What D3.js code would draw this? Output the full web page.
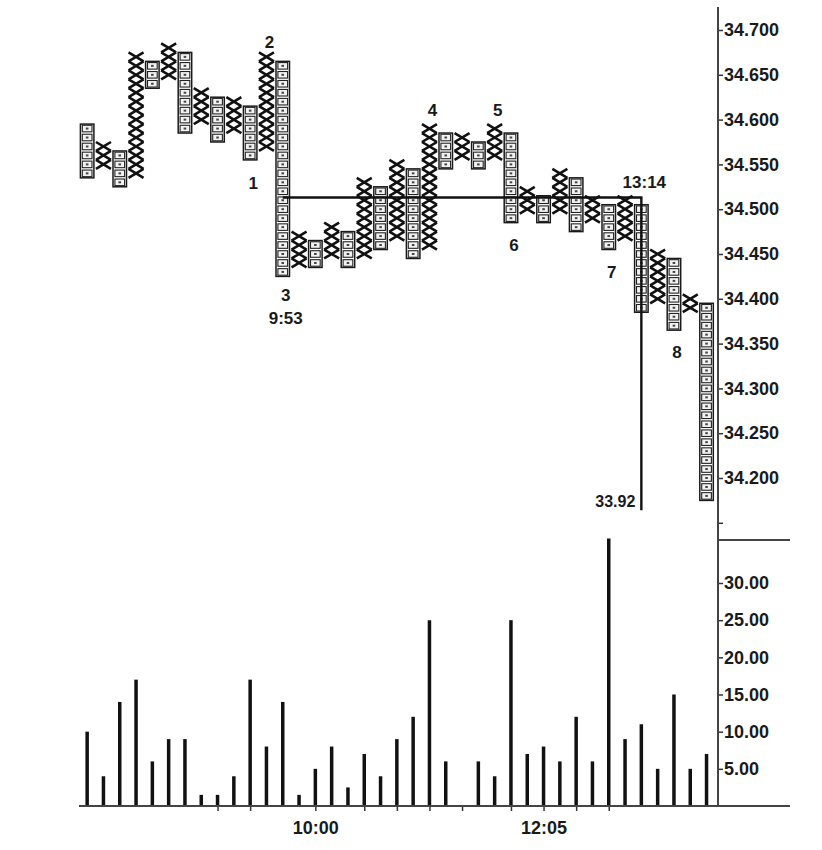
<!DOCTYPE html>
<html>
<head>
<meta charset="utf-8">
<script src="https://cdn.jsdelivr.net/npm/d3@7"></script>
<style>
  body { margin: 0; background: #fff; }
  text { font-family: "Liberation Sans", Arial, sans-serif; font-weight: bold; fill: #1a1a1a; }
</style>
</head>
<body>
<div id="chart"></div>
<script>
// point & figure columns, first column is an O column, then alternating
const colLow = [34.54, 34.55, 34.53, 34.54, 34.64, 34.65, 34.59, 34.60, 34.58, 34.59,
                34.56, 34.57, 34.43, 34.44, 34.44, 34.45, 34.44, 34.45, 34.46, 34.47,
                34.45, 34.46, 34.55, 34.56, 34.55, 34.56, 34.49, 34.50, 34.49, 34.50,
                34.48, 34.49, 34.46, 34.47, 34.39, 34.40, 34.37, 34.39, 34.18];
const colHigh = [34.59, 34.57, 34.56, 34.67, 34.66, 34.68, 34.67, 34.63, 34.62, 34.62,
                 34.61, 34.67, 34.66, 34.47, 34.46, 34.48, 34.47, 34.53, 34.52, 34.55,
                 34.54, 34.59, 34.58, 34.58, 34.57, 34.59, 34.58, 34.52, 34.51, 34.54,
                 34.53, 34.51, 34.50, 34.51, 34.50, 34.45, 34.44, 34.40, 34.39];
const volume = [10, 4, 14, 17, 6, 9, 9, 1.5, 1.5, 4, 17, 8, 14, 1.5, 5, 8, 2.5, 7, 4, 9,
                12, 25, 6, 0, 6, 4, 25, 7, 8, 6, 12, 6, 36, 9, 11, 5, 15, 5, 7];

const priceTicks = [34.15, 34.20, 34.25, 34.30, 34.35, 34.40, 34.45, 34.50, 34.55, 34.60, 34.65, 34.70];
const volTicks = [5, 10, 15, 20, 25, 30];
const timeTickCols = [8, 10, 14, 17, 19, 21, 23, 26, 28, 30, 32];
const timeLabels = {14: "10:00", 28: "12:05"};

// annotations: column index and price of the text baseline
const notes = [
    {text: "1", col: 10, price: 34.5225},
    {text: "2", col: 11, price: 34.680},
    {text: "3", col: 12, price: 34.3975},
    {text: "9:53", col: 12, price: 34.372},
    {text: "4", col: 21, price: 34.604},
    {text: "5", col: 25, price: 34.604},
    {text: "6", col: 26, price: 34.453},
    {text: "7", col: 32, price: 34.423},
    {text: "13:14", col: 34, price: 34.524},
    {text: "8", col: 36, price: 34.334}
];
const countLine = {fromCol: 12, toCol: 34, price: 34.513, endPrice: 34.164, label: "33.92"};

const boxSize = 0.01;
const W = 822, H = 850;

const svg = d3.select("#chart").append("svg").attr("width", W).attr("height", H);

const x = d3.scaleLinear().domain([0, colLow.length - 1]).range([87.15, 706.55]);
const y = d3.scaleLinear().domain([34.2, 34.7]).range([478, 30]);
const yVol = d3.scaleLinear().domain([0, 30]).range([806, 583]);

const axisX = 718;
const boxW = 13.5;
const crossW = 15;
const boxH = Math.abs(y(0) - y(boxSize));

// build columns
const columns = colLow.map((lo, i) => {
    const n = Math.round((colHigh[i] - lo) / boxSize) + 1;
    return {i, type: i % 2 === 0 ? "O" : "X", lo, hi: colHigh[i],
            boxes: d3.range(n).map(k => lo + k * boxSize)};
});

const pf = svg.append("g");

// O columns
const oCols = pf.selectAll("g.ocol")
    .data(columns.filter(d => d.type === "O"))
    .join("g")
    .attr("class", "ocol");

oCols.append("rect")
    .attr("x", d => x(d.i) - boxW / 2)
    .attr("y", d => y(d.hi + boxSize / 2))
    .attr("width", boxW)
    .attr("height", d => y(d.lo - boxSize / 2) - y(d.hi + boxSize / 2))
    .attr("fill", "#fff")
    .attr("stroke", "#1a1a1a")
    .attr("stroke-width", 1.5);

oCols.each(function(col) {
    const g = d3.select(this);
    g.selectAll("rect.box")
        .data(col.boxes)
        .join("rect")
        .attr("class", "box")
        .attr("x", x(col.i) - boxW / 2 + 1.9)
        .attr("y", p => y(p + boxSize / 2) + 1.2)
        .attr("width", boxW - 3.8)
        .attr("height", boxH - 2.4)
        .attr("fill", "#f2f2f2")
        .attr("stroke", "#222")
        .attr("stroke-width", 1.1);
    g.selectAll("rect.dot")
        .data(col.boxes)
        .join("rect")
        .attr("class", "dot")
        .attr("x", x(col.i) - 1.3)
        .attr("y", p => y(p) - 1)
        .attr("width", 2.6)
        .attr("height", 2)
        .attr("fill", "#444");
});

// X columns
const xCols = pf.selectAll("g.xcol")
    .data(columns.filter(d => d.type === "X"))
    .join("g")
    .attr("class", "xcol");

xCols.each(function(col) {
    d3.select(this).selectAll("path")
        .data(col.boxes)
        .join("path")
        .attr("d", p => {
            const x0 = x(col.i) - crossW / 2, x1 = x(col.i) + crossW / 2;
            const y0 = y(p + boxSize / 2), y1 = y(p - boxSize / 2);
            return `M${x0},${y0}L${x1},${y1}M${x1},${y0}L${x0},${y1}`;
        })
        .attr("fill", "none")
        .attr("stroke", "#111")
        .attr("stroke-width", 2.6);
});

// count line
svg.append("path")
    .attr("d", `M${x(countLine.fromCol)},${y(countLine.price)}H${x(countLine.toCol)}V${y(countLine.endPrice)}`)
    .attr("fill", "none")
    .attr("stroke", "#111")
    .attr("stroke-width", 2.4);

svg.append("text")
    .attr("x", x(countLine.toCol) - 6)
    .attr("y", y(countLine.endPrice) - 3)
    .attr("text-anchor", "end")
    .style("font-size", "16px")
    .text(countLine.label);

svg.selectAll("text.note")
    .data(notes)
    .join("text")
    .attr("class", "note")
    .attr("x", d => x(d.col) + 3)
    .attr("y", d => y(d.price))
    .attr("text-anchor", "middle")
    .style("font-size", "17px")
    .text(d => d.text);

// volume bars
svg.selectAll("line.vol")
    .data(volume)
    .join("line")
    .attr("class", "vol")
    .attr("x1", (d, i) => x(i))
    .attr("x2", (d, i) => x(i))
    .attr("y1", yVol(0))
    .attr("y2", d => yVol(d))
    .attr("stroke", "#111")
    .attr("stroke-width", 3.5);

// axes
const priceAxis = d3.axisRight(y)
    .tickValues(priceTicks)
    .tickFormat(d => d >= 34.199 ? d3.format(".3f")(d) : "")
    .tickSize(5)
    .tickPadding(1);

const gPrice = svg.append("g")
    .attr("transform", `translate(${axisX},0)`)
    .call(priceAxis);

const volAxis = d3.axisRight(yVol)
    .tickValues(volTicks)
    .tickFormat(d3.format(".2f"))
    .tickSize(5)
    .tickPadding(1);

const gVol = svg.append("g")
    .attr("transform", `translate(${axisX},0)`)
    .call(volAxis);

const timeAxis = d3.axisBottom(x)
    .tickValues(timeTickCols)
    .tickFormat(d => timeLabels[d] || "")
    .tickSize(5)
    .tickPadding(10);

const gTime = svg.append("g")
    .attr("transform", `translate(0,${yVol(0)})`)
    .call(timeAxis);

[gPrice, gVol, gTime].forEach(g => {
    g.select(".domain").remove();
    g.selectAll(".tick line").attr("stroke", "#333").attr("stroke-width", 1.5);
    g.selectAll(".tick text").style("font-size", "18px").attr("fill", "#1a1a1a");
});

// axis lines
svg.append("line")
    .attr("x1", axisX).attr("x2", axisX)
    .attr("y1", 7).attr("y2", yVol(0))
    .attr("stroke", "#444").attr("stroke-width", 2);

svg.append("line")
    .attr("x1", axisX).attr("x2", 790)
    .attr("y1", 540).attr("y2", 540)
    .attr("stroke", "#444").attr("stroke-width", 2);

svg.append("line")
    .attr("x1", 79).attr("x2", 790)
    .attr("y1", yVol(0)).attr("y2", yVol(0))
    .attr("stroke", "#444").attr("stroke-width", 2);
</script>
</body>
</html>
